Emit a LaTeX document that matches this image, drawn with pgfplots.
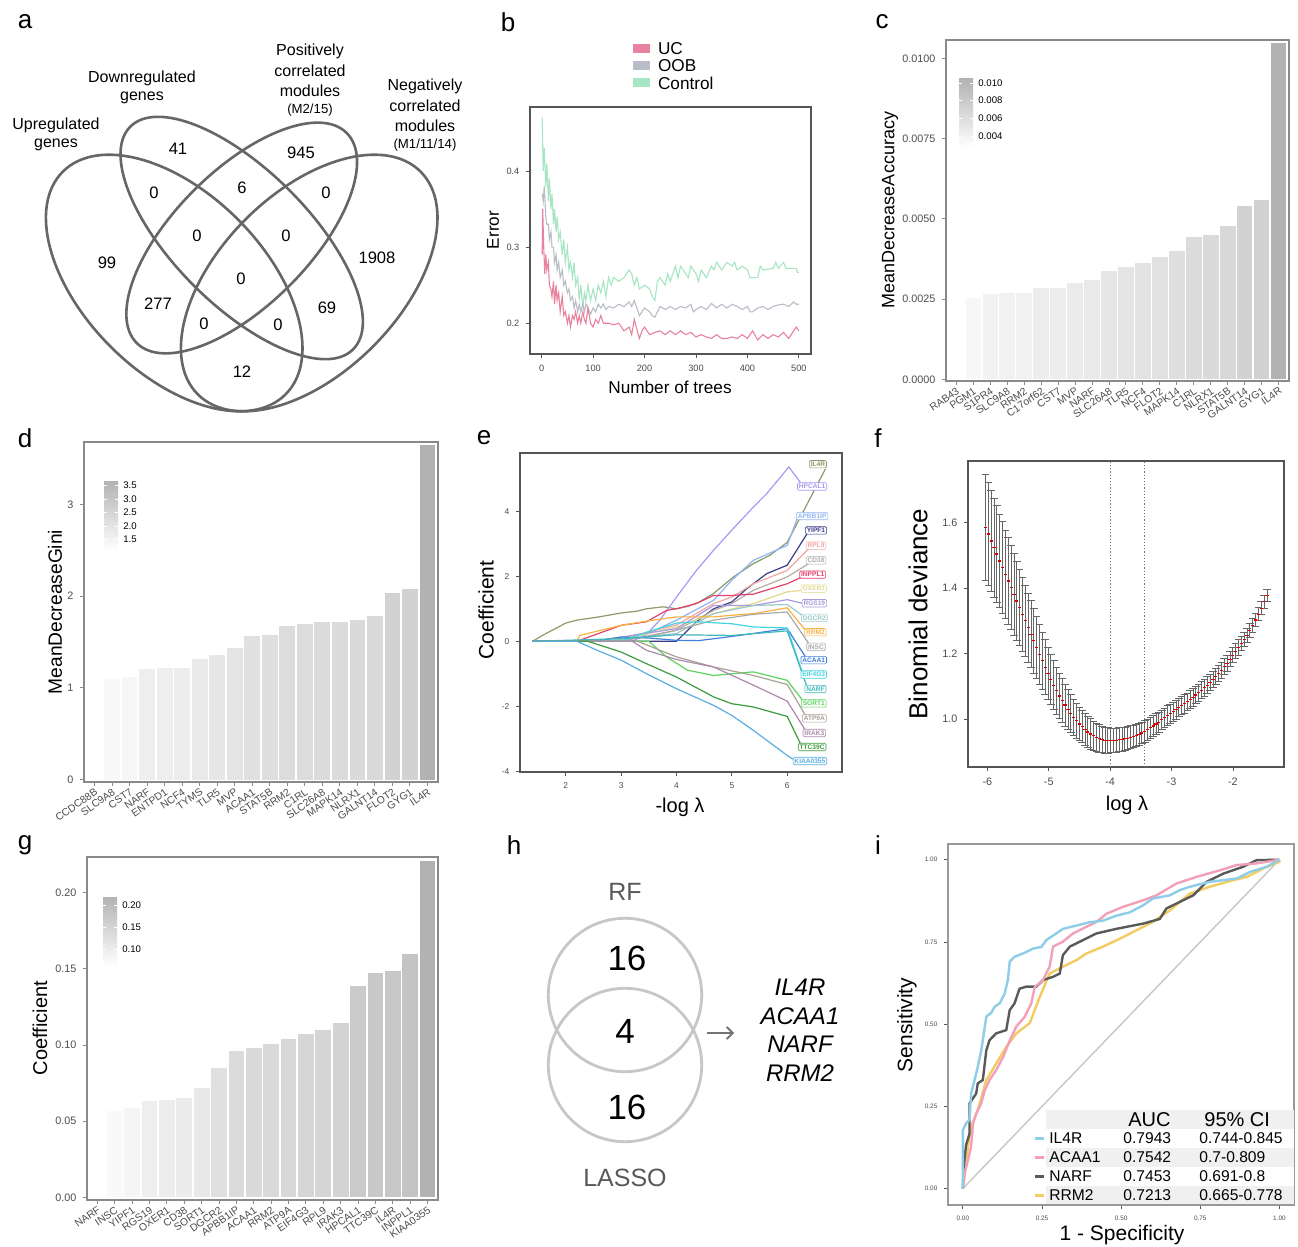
\documentclass[border=0pt]{standalone}
\usepackage{pgfplots}
\pgfplotsset{compat=1.18}
\usepackage{fontspec}
\setmainfont{Liberation Sans}
\usetikzlibrary{arrows.meta}

\newcommand{\fs}[1]{\fontsize{#1}{#1}\selectfont}

\definecolor{frm}{HTML}{555555}
\definecolor{gfrm}{HTML}{8A8A8A}
\definecolor{tk}{HTML}{4D4D4D}
\definecolor{venn}{HTML}{666666}
\definecolor{cUC}{HTML}{E8829E}
\definecolor{cOOB}{HTML}{B9BDC8}
\definecolor{cCtl}{HTML}{A6E6C2}
% lasso path colours
\definecolor{eIL4R}{HTML}{8C9A6C}
\definecolor{eHPCAL1}{HTML}{A899F5}
\definecolor{eAPBB1IP}{HTML}{8FB5F2}
\definecolor{eYIPF1}{HTML}{3B3B8A}
\definecolor{eRPL9}{HTML}{F4A4A4}
\definecolor{eCD38}{HTML}{B4ABAB}
\definecolor{eINPPL1}{HTML}{E2426C}
\definecolor{eOXER1}{HTML}{E3D88E}
\definecolor{eRGS19}{HTML}{A89BDC}
\definecolor{eDGCR2}{HTML}{9CC9C9}
\definecolor{eRRM2}{HTML}{F8B240}
\definecolor{eINSC}{HTML}{A9A9A9}
\definecolor{eACAA1}{HTML}{4080DC}
\definecolor{eEIF4G3}{HTML}{42D6E0}
\definecolor{eNARF}{HTML}{40B8BC}
\definecolor{eSORT1}{HTML}{5DD35D}
\definecolor{eATP9A}{HTML}{AAA097}
\definecolor{eIRAK3}{HTML}{AB8AAB}
\definecolor{eTTC39C}{HTML}{3D9B3D}
\definecolor{eKIAA}{HTML}{5AAEE2}
% roc colours
\definecolor{rIL4R}{HTML}{8ECDE8}
\definecolor{rACAA1}{HTML}{F2A0B8}
\definecolor{rNARF}{HTML}{5A5A5A}
\definecolor{rRRM2}{HTML}{F2CC60}

\pgfplotsset{
  panel/.style={
    scale only axis, anchor=north west,
    axis line style={frm, line width=0.6pt},
    tick style={frm, line width=0.4pt},
    tick align=outside, major tick length=1.8pt,
    xtick pos=bottom, ytick pos=left,
    /pgf/number format/assume math mode=true,
    tick label style={text=tk, font=\fs{4.6}},
  },
  barpanel/.style={panel,
    axis line style={gfrm, line width=0.8pt},
    tick style={gfrm, line width=0.5pt},
    xmin=0.4, xmax=20.6, xtick={1,...,20},
    xticklabel style={rotate=35, anchor=north east, inner sep=0.6pt, font=\fs{5.2}},
    yticklabel style={font=\fs{5.4}},
    scaled y ticks=false,
  },
  gb/.style={ybar, bar width=0.9, draw=none, fill=black!#1},
}
\tikzset{
  lab/.style={draw=#1, fill=white, text=#1, rounded corners=0.6pt, inner sep=0.7pt,
    line width=0.3pt, font=\fs{3.3}\bfseries},
}

\begin{document}
\begin{tikzpicture}
\path[use as bounding box, fill=white] (0,0) rectangle (649pt,-623.5pt);

\begin{scope}[x=0.5pt, y=-0.5pt]
% panel letters
\foreach \l/\x/\y in {a/25/22, b/508/22, c/882/22, d/25/438, e/484/438, f/878/438, g/25/845, h/514/845, i/878/845}
  \node[font=\fs{13}] at (\x,\y) {\l};

% ---------- a: four-set Venn diagram
\draw[venn, line width=1.3pt, rotate around={-45:(174.2,283)}] (174.2,283) ellipse[x radius=78.75pt, y radius=45pt];
\draw[venn, line width=1.3pt, rotate around={-45:(241.7,238)}] (241.7,238) ellipse[x radius=78.75pt, y radius=33.75pt];
\draw[venn, line width=1.3pt, rotate around={45:(241.7,238)}] (241.7,238) ellipse[x radius=74.25pt, y radius=33.75pt];
\draw[venn, line width=1.3pt, rotate around={45:(309.2,283)}] (309.2,283) ellipse[x radius=78.75pt, y radius=45pt];
\foreach \n/\x/\y in {41/178/149, 945/301/153, 0/154/193, 6/242/188, 0/326/193, 0/197/236, 0/286/236,
  99/107/263, 1908/377/258, 0/241/279, 277/158/304, 69/327/308, 0/204/324, 0/278/325, 12/242/372}
  \node[font=\fs{8.3}] at (\x,\y) {\n};
\begin{scope}[every node/.style={font=\fs{8}}]
\node at (56,125) {Upregulated}; \node at (56,145) {genes};
\node at (142,78) {Downregulated}; \node at (142,98) {genes};
\node at (310,51) {Positively}; \node at (310,71) {correlated}; \node at (310,91) {modules};
\node[font=\fs{6.6}] at (310,110) {(M2/15)};
\node at (425,86) {Negatively}; \node at (425,106) {correlated}; \node at (425,126) {modules};
\node[font=\fs{6.6}] at (425,145) {(M1/11/14)};
\end{scope}

% ---------- b: legend and labels
\fill[cUC] (633,44) rectangle (650,53);
\fill[cOOB] (633,61) rectangle (650,70);
\fill[cCtl] (633,78) rectangle (650,87);
\node[anchor=west, font=\fs{8.6}] at (651,49) {UC};
\node[anchor=west, font=\fs{8.6}] at (651,66) {OOB};
\node[anchor=west, font=\fs{8.6}] at (651,83) {Control};
\node[rotate=90, font=\fs{8.6}] at (493,230) {Error};
\node[font=\fs{8.6}] at (670,387) {Number of trees};

% ---------- c: label and colour bar
\node[rotate=90, font=\fs{9}] at (890,210) {MeanDecreaseAccuracy};
\shade[top color=black!30, bottom color=white] (959,79) rectangle (973,148);
\foreach \y/\t in {83/0.010, 100/0.008, 118/0.006, 136/0.004}{
  \draw[white, line width=0.4pt] (959,\y)--(962,\y) (970,\y)--(973,\y);
  \node[anchor=west, font=\fs{4.8}, inner sep=1pt] at (976,\y) {\t};}

% ---------- d
\node[rotate=90, font=\fs{9.6}] at (55,612) {MeanDecreaseGini};
\shade[top color=black!30, bottom color=white] (104,481) rectangle (118,550);
\foreach \y/\t in {485/3.5, 499/3.0, 512/2.5, 526/2.0, 539/1.5}{
  \draw[white, line width=0.4pt] (104,\y)--(107,\y) (115,\y)--(118,\y);
  \node[anchor=west, font=\fs{4.8}, inner sep=1pt] at (121,\y) {\t};}

% ---------- e, f labels
\node[rotate=90, font=\fs{10.5}] at (486,610) {Coefficient};
\node[font=\fs{10}] at (680,807) {-log λ};
\node[rotate=90, font=\fs{13}] at (918,614) {Binomial deviance};
\node[font=\fs{10}] at (1127,805) {log λ};

% ---------- g
\node[rotate=90, font=\fs{10}] at (40,1028) {Coefficient};
\shade[top color=black!30, bottom color=white] (103,897) rectangle (117,966);
\foreach \y/\t in {905/0.20, 927/0.15, 949/0.10}{
  \draw[white, line width=0.4pt] (103,\y)--(106,\y) (114,\y)--(117,\y);
  \node[anchor=west, font=\fs{4.8}, inner sep=1pt] at (120,\y) {\t};}

% ---------- h: two-set Venn
\draw[black!22, line width=1.4pt] (625,995) circle[radius=38.35pt];
\draw[black!22, line width=1.4pt] (625,1065) circle[radius=38.35pt];
\node[text=black!65, font=\fs{12.5}] at (625,892) {RF};
\node[text=black!65, font=\fs{12.5}] at (625,1178) {LASSO};
\node[font=\fs{17.5}] at (627,958) {16};
\node[font=\fs{17.5}] at (625,1031) {4};
\node[font=\fs{17.5}] at (627,1107) {16};
\draw[black!55, line width=0.9pt, -{Straight Barb[length=3pt, width=6pt]}] (707,1033) -- (734,1033);
\foreach \g/\y in {IL4R/987, ACAA1/1016, NARF/1044, RRM2/1073}
  \node[font=\fs{12}\itshape] at (800,\y) {\g};

% ---------- i: labels
\node[rotate=90, font=\fs{10.5}] at (907,1025) {Sensitivity};
\node[font=\fs{10.5}] at (1122,1235) {1 - Specificity};
\end{scope}

% ================= b
\begin{axis}[panel, at={(265pt,-53.5pt)}, width=140.5pt, height=123.5pt,
  xmin=-22.7, xmax=523.6, ymin=0.1596, ymax=0.484,
  xtick={0,100,200,300,400,500}, ytick={0.2,0.3,0.4},
  yticklabel style={/pgf/number format/fixed, /pgf/number format/fixed zerofill, /pgf/number format/precision=1}]
\addplot[cCtl, line width=0.55pt] coordinates {
(1,0.47) (3,0.40) (5,0.43) (8,0.38) (10,0.41) (13,0.36) (15,0.39) (18,0.35) (20,0.37) (23,0.33)
(25,0.35) (28,0.32) (30,0.34) (33,0.31) (36,0.32) (40,0.29) (43,0.31) (46,0.28) (50,0.30) (53,0.27)
(56,0.28) (60,0.26) (63,0.28) (66,0.25) (70,0.26) (73,0.23) (76,0.25) (80,0.22) (83,0.24) (86,0.23)
(90,0.25) (95,0.23) (100,0.245) (105,0.23) (110,0.25) (115,0.24) (120,0.255) (125,0.235) (130,0.26)
(135,0.25) (140,0.26) (150,0.255) (160,0.26) (170,0.27) (175,0.265) (180,0.25) (185,0.26) (190,0.245)
(200,0.25) (210,0.245) (215,0.235) (220,0.23) (225,0.255) (230,0.26) (240,0.25) (245,0.265) (250,0.255)
(260,0.275) (265,0.26) (270,0.275) (280,0.265) (285,0.26) (290,0.275) (300,0.265) (305,0.255) (310,0.27)
(320,0.26) (330,0.275) (335,0.27) (340,0.28) (350,0.27) (360,0.28) (370,0.275) (375,0.28) (380,0.27)
(390,0.275) (400,0.27) (405,0.26) (420,0.26) (425,0.275) (430,0.27) (450,0.272) (455,0.28) (460,0.272)
(470,0.28) (475,0.272) (495,0.272) (497,0.267) (500,0.267)};
\addplot[cOOB, line width=0.55pt] coordinates {
(1,0.37) (3,0.36) (5,0.38) (8,0.34) (10,0.33) (13,0.33) (15,0.31) (18,0.32) (20,0.30) (23,0.30)
(25,0.28) (28,0.29) (30,0.27) (33,0.28) (36,0.26) (40,0.27) (43,0.25) (46,0.255) (50,0.24) (53,0.245)
(56,0.23) (60,0.235) (63,0.22) (66,0.23) (70,0.215) (73,0.225) (76,0.215) (80,0.225) (83,0.215) (86,0.225)
(90,0.22) (95,0.212) (100,0.22) (105,0.215) (110,0.225) (115,0.22) (120,0.225) (125,0.218) (130,0.222)
(140,0.22) (150,0.225) (160,0.222) (170,0.228) (175,0.222) (180,0.23) (185,0.22) (190,0.21) (195,0.215)
(200,0.22) (210,0.215) (215,0.21) (220,0.208) (225,0.215) (230,0.222) (240,0.218) (250,0.222) (260,0.218)
(270,0.222) (280,0.22) (290,0.225) (295,0.215) (300,0.218) (310,0.222) (320,0.218) (330,0.226) (340,0.22)
(350,0.225) (360,0.22) (370,0.225) (380,0.222) (390,0.218) (400,0.222) (405,0.215) (410,0.215) (420,0.22)
(430,0.222) (440,0.218) (450,0.222) (460,0.224) (470,0.225) (480,0.222) (490,0.228) (495,0.225) (500,0.225)};
\addplot[cUC, line width=0.55pt] coordinates {
(1,0.29) (2,0.35) (4,0.30) (6,0.265) (8,0.29) (10,0.27) (13,0.28) (15,0.25) (18,0.245) (20,0.235)
(23,0.255) (25,0.225) (28,0.25) (30,0.23) (33,0.24) (36,0.215) (40,0.235) (43,0.21) (46,0.215) (50,0.20)
(53,0.21) (56,0.195) (60,0.21) (63,0.205) (66,0.215) (70,0.20) (73,0.21) (76,0.20) (80,0.215) (83,0.205)
(86,0.20) (90,0.22) (95,0.20) (100,0.195) (105,0.205) (110,0.20) (115,0.21) (120,0.20) (130,0.20)
(140,0.198) (150,0.20) (160,0.19) (170,0.195) (175,0.185) (180,0.205) (185,0.192) (190,0.18) (195,0.19)
(200,0.195) (210,0.185) (220,0.188) (230,0.19) (240,0.185) (250,0.19) (260,0.185) (270,0.19) (280,0.185)
(290,0.188) (300,0.182) (310,0.185) (320,0.182) (330,0.18) (340,0.185) (350,0.18) (360,0.18) (370,0.182)
(380,0.18) (390,0.185) (400,0.18) (410,0.19) (420,0.178) (430,0.185) (440,0.18) (450,0.185) (460,0.182)
(470,0.188) (480,0.18) (490,0.19) (495,0.195) (500,0.19)};
\end{axis}

% ================= c
\begin{axis}[barpanel, at={(473pt,-20pt)}, width=171.5pt, height=170.5pt,
  ymin=-0.00005, ymax=0.01058,
  ytick={0,0.0025,0.005,0.0075,0.01},
  yticklabel style={/pgf/number format/fixed, /pgf/number format/fixed zerofill, /pgf/number format/precision=4},
  xticklabels={RAB43,PGM1,S1PR4,SLC9A8,RRM2,C17orf62,CST7,MVP,NARF,SLC26A8,TLR5,NCF4,FLOT2,MAPK14,C1RL,NLRX1,STAT5B,GALNT14,GYG1,IL4R}]
\addplot[gb=0] coordinates {(1,0.0024)};
\addplot[gb=3] coordinates {(2,0.00253)};
\addplot[gb=5.2] coordinates {(3,0.00266)};
\addplot[gb=5.4] coordinates {(4,0.00268)};
\addplot[gb=5.4] coordinates {(5,0.00268)};
\addplot[gb=7.0] coordinates {(6,0.00285)};
\addplot[gb=7.0] coordinates {(7,0.00286)};
\addplot[gb=7.9] coordinates {(8,0.00301)};
\addplot[gb=8.5] coordinates {(9,0.00311)};
\addplot[gb=9.9] coordinates {(10,0.00339)};
\addplot[gb=10.4] coordinates {(11,0.00349)};
\addplot[gb=11.1] coordinates {(12,0.00364)};
\addplot[gb=11.9] coordinates {(13,0.00383)};
\addplot[gb=12.6] coordinates {(14,0.00401)};
\addplot[gb=14.3] coordinates {(15,0.00445)};
\addplot[gb=14.5] coordinates {(16,0.00451)};
\addplot[gb=15.4] coordinates {(17,0.00478)};
\addplot[gb=17.5] coordinates {(18,0.00542)};
\addplot[gb=18.0] coordinates {(19,0.00559)};
\addplot[gb=30] coordinates {(20,0.0105)};
\end{axis}

% ================= d
\begin{axis}[barpanel, at={(42pt,-221pt)}, width=177pt, height=170pt,
  ymin=-0.025, ymax=3.68, ytick={0,1,2,3},
  xticklabels={CCDC88B,SLC9A8,CST7,NARF,ENTPD1,NCF4,TYMS,TLR5,MVP,ACAA1,STAT5B,RRM2,C1RL,SLC26A8,MAPK14,NLRX1,GALNT14,FLOT2,GYG1,IL4R}]
\addplot[gb=0] coordinates {(1,1.08)};
\addplot[gb=2.5] coordinates {(2,1.10)};
\addplot[gb=3.4] coordinates {(3,1.114)};
\addplot[gb=6.7] coordinates {(4,1.21)};
\addplot[gb=6.8] coordinates {(5,1.216)};
\addplot[gb=6.9] coordinates {(6,1.22)};
\addplot[gb=8.6] coordinates {(7,1.31)};
\addplot[gb=9.3] coordinates {(8,1.354)};
\addplot[gb=10.6] coordinates {(9,1.44)};
\addplot[gb=12.3] coordinates {(10,1.568)};
\addplot[gb=12.4] coordinates {(11,1.572)};
\addplot[gb=13.6] coordinates {(12,1.67)};
\addplot[gb=13.9] coordinates {(13,1.70)};
\addplot[gb=14.1] coordinates {(14,1.72)};
\addplot[gb=14.1] coordinates {(15,1.72)};
\addplot[gb=14.4] coordinates {(16,1.74)};
\addplot[gb=14.8] coordinates {(17,1.78)};
\addplot[gb=17.5] coordinates {(18,2.036)};
\addplot[gb=17.8] coordinates {(19,2.076)};
\addplot[gb=30] coordinates {(20,3.65)};
\end{axis}

% ================= e
\begin{axis}[panel, at={(260pt,-226.5pt)}, width=161pt, height=159.5pt,
  xmin=1.173, xmax=6.99, ymin=-4.02, ymax=5.79,
  xtick={2,3,4,5,6}, ytick={-4,-2,0,2,4}, tick label style={font=\fs{4.2}}]
\addplot[eIL4R, line width=0.6pt] coordinates {(1.4,0) (1.6,0.2) (2,0.56) (2.2,0.65) (2.6,0.75) (3,0.87) (3.3,0.93) (3.46,1.0) (3.76,1.06) (4,1.0) (4.2,1.07) (4.4,1.2) (4.67,1.47) (5.03,1.98) (5.39,2.39) (5.69,2.65) (6,3.04) (6.69,5.3)};
\addplot[eHPCAL1, line width=0.6pt] coordinates {(1.4,0) (3.2,0) (3.45,0.2) (3.7,0.65) (4,1.36) (4.36,2.18) (4.67,2.8) (5,3.42) (5.39,4.13) (5.63,4.54) (6.03,5.36) (6.24,4.88)};
\addplot[eAPBB1IP, line width=0.6pt] coordinates {(1.4,0) (3.0,0) (3.5,0.25) (4,0.65) (4.67,1.26) (5,1.88) (5.39,2.49) (6,2.95) (6.18,3.77)};
\addplot[eYIPF1, line width=0.6pt] coordinates {(1.4,0) (4,0) (4.36,0.6) (4.67,1.0) (5,1.21) (5.27,1.62) (5.63,2.08) (6,2.34) (6.36,3.31)};
\addplot[eRPL9, line width=0.6pt] coordinates {(1.4,0) (2.8,0) (3.4,0.25) (4,0.5) (4.67,1.16) (5,1.36) (5.39,1.77) (6,2.18) (6.39,2.85)};
\addplot[eCD38, line width=0.6pt] coordinates {(1.4,0) (2.9,0) (3.5,0.15) (4,0.34) (4.67,0.95) (5,1.16) (5.39,1.57) (6,1.98) (6.39,2.39)};
\addplot[eINPPL1, line width=0.6pt] coordinates {(1.4,0) (2.2,0) (3,0.49) (3.46,0.6) (3.82,0.95) (4,1.0) (4.36,1.16) (4.67,1.41) (5,1.41) (5.39,1.45) (6,1.77) (6.27,1.98)};
\addplot[eOXER1, line width=0.6pt] coordinates {(1.4,0) (2.8,0) (3.4,0.2) (4,0.44) (4.67,0.85) (5.39,1.16) (6,1.52) (6.28,1.57)};
\addplot[eRGS19, line width=0.6pt] coordinates {(1.4,0) (2.5,0) (3,0.13) (4,0.39) (4.67,1.1) (5.39,1.1) (6,1.28) (6.27,1.17)};
\addplot[eDGCR2, line width=0.6pt] coordinates {(1.4,0) (2.7,0) (4,0.24) (4.67,0.85) (5.39,1.1) (6,1.13) (6.27,0.80)};
\addplot[eRRM2, line width=0.6pt] coordinates {(1.4,0) (2.2,0) (2.25,0.18) (3,0.49) (3.46,0.62) (4,0.75) (4.67,0.75) (5,0.8) (5.39,0.85) (6,1.03) (6.33,0.34)};
\addplot[eINSC, line width=0.6pt] coordinates {(1.4,0) (3.0,0) (4,0.34) (4.67,0.65) (5.39,0.83) (6,0.9) (6.39,-0.07)};
\addplot[eACAA1, line width=0.6pt] coordinates {(1.4,0) (2.5,0) (3,0.13) (3.5,0.1) (4,0.03) (4.4,0.02) (5,0.15) (5.39,0.24) (6,0.39) (6.33,-0.48)};
\addplot[eEIF4G3, line width=0.6pt] coordinates {(1.4,0) (3,0) (3.5,0.3) (4,0.56) (4.36,0.6) (5,0.54) (5.39,0.44) (6,0.41) (6.27,-0.94)};
\addplot[eNARF, line width=0.6pt] coordinates {(1.4,0) (3,0.08) (4,0.2) (5,0.18) (6,0.32) (6.36,-1.41)};
\addplot[eSORT1, line width=0.6pt] coordinates {(1.4,0) (3.5,0) (3.82,-0.48) (4.2,-0.89) (4.67,-1.05) (5,-1.0) (5.39,-0.94) (6,-1.2) (6.28,-1.82)};
\addplot[eATP9A, line width=0.6pt] coordinates {(1.4,0) (3.3,0) (4,-0.48) (4.67,-0.79) (5.39,-1.05) (6,-1.33) (6.33,-2.28)};
\addplot[eIRAK3, line width=0.6pt] coordinates {(1.4,0) (3.2,0) (3.46,-0.28) (4,-0.56) (4.67,-0.79) (5.39,-1.35) (6,-1.84) (6.33,-2.74)};
\addplot[eTTC39C, line width=0.6pt] coordinates {(1.4,0) (2.4,0) (3,-0.33) (3.46,-0.69) (4,-1.1) (4.67,-1.71) (5,-1.92) (5.39,-2.02) (6,-2.31) (6.24,-3.15)};
\addplot[eKIAA, line width=0.6pt] coordinates {(1.4,0) (2.2,0) (2.6,-0.3) (3,-0.58) (3.46,-1.0) (4,-1.46) (4.67,-1.97) (5,-2.28) (5.39,-2.74) (6,-3.51) (6.14,-3.66)};
\node[lab=eIL4R] at (axis cs:6.555,5.446) {IL4R};
\node[lab=eHPCAL1] at (axis cs:6.45,4.76) {HPCAL1};
\node[lab=eAPBB1IP] at (axis cs:6.45,3.85) {APBB1IP};
\node[lab=eYIPF1] at (axis cs:6.52,3.41) {YIPF1};
\node[lab=eRPL9] at (axis cs:6.52,2.94) {RPL9};
\node[lab=eCD38] at (axis cs:6.52,2.49) {CD38};
\node[lab=eINPPL1] at (axis cs:6.46,2.05) {INPPL1};
\node[lab=eOXER1] at (axis cs:6.48,1.62) {OXER1};
\node[lab=eRGS19] at (axis cs:6.49,1.17) {RGS19};
\node[lab=eDGCR2] at (axis cs:6.49,0.72) {DGCR2};
\node[lab=eRRM2] at (axis cs:6.51,0.28) {RRM2};
\node[lab=eINSC] at (axis cs:6.52,-0.17) {INSC};
\node[lab=eACAA1] at (axis cs:6.48,-0.58) {ACAA1};
\node[lab=eEIF4G3] at (axis cs:6.48,-1.02) {EIF4G3};
\node[lab=eNARF] at (axis cs:6.51,-1.47) {NARF};
\node[lab=eSORT1] at (axis cs:6.48,-1.91) {SORT1};
\node[lab=eATP9A] at (axis cs:6.49,-2.37) {ATP9A};
\node[lab=eIRAK3] at (axis cs:6.49,-2.82) {IRAK3};
\node[lab=eTTC39C] at (axis cs:6.45,-3.25) {TTC39C};
\node[lab=eKIAA] at (axis cs:6.41,-3.68) {KIAA0355};
\end{axis}

% ================= f
\begin{axis}[panel, at={(484pt,-230.5pt)}, width=158pt, height=153pt,
  xmin=-6.315, xmax=-1.168, ymin=0.854, ymax=1.788,
  xtick={-6,-5,-4,-3,-2}, ytick={1.0,1.2,1.4,1.6}, tick label style={font=\fs{5.4}},
  yticklabel style={/pgf/number format/fixed, /pgf/number format/fixed zerofill, /pgf/number format/precision=1}]
\addplot[black!55, densely dotted, line width=0.6pt] coordinates {(-4.0,0.854) (-4.0,1.788)};
\addplot[black!55, densely dotted, line width=0.6pt] coordinates {(-3.44,0.854) (-3.44,1.788)};
\addplot[only marks, mark=-, mark size=0.8pt, mark options={red!85!black, line width=0.6pt},
  error bars/.cd, y dir=both, y explicit,
  error bar style={black!60, line width=0.4pt},
  error mark options={rotate=90, black!60, mark size=1.9pt, line width=0.45pt}]
  table[x=x, y=y, y error=e] {
x y e
-6.030 1.585 0.162
-5.984 1.565 0.158
-5.937 1.544 0.154
-5.891 1.524 0.151
-5.845 1.504 0.147
-5.799 1.483 0.143
-5.752 1.463 0.139
-5.706 1.442 0.135
-5.660 1.422 0.132
-5.613 1.402 0.128
-5.567 1.381 0.124
-5.521 1.361 0.120
-5.474 1.341 0.116
-5.428 1.320 0.113
-5.382 1.300 0.109
-5.336 1.279 0.105
-5.289 1.259 0.102
-5.243 1.239 0.098
-5.197 1.218 0.095
-5.150 1.198 0.091
-5.104 1.178 0.087
-5.058 1.158 0.084
-5.011 1.139 0.080
-4.965 1.121 0.077
-4.919 1.104 0.075
-4.873 1.087 0.072
-4.826 1.071 0.069
-4.780 1.057 0.066
-4.734 1.043 0.064
-4.687 1.029 0.061
-4.641 1.017 0.058
-4.595 1.006 0.055
-4.548 0.995 0.053
-4.502 0.985 0.050
-4.456 0.977 0.049
-4.410 0.969 0.048
-4.363 0.961 0.047
-4.317 0.955 0.046
-4.271 0.950 0.044
-4.224 0.945 0.043
-4.178 0.941 0.042
-4.132 0.938 0.041
-4.085 0.936 0.040
-4.039 0.935 0.039
-3.993 0.935 0.038
-3.946 0.935 0.038
-3.900 0.936 0.037
-3.854 0.937 0.037
-3.808 0.938 0.036
-3.761 0.940 0.036
-3.715 0.942 0.035
-3.669 0.945 0.035
-3.622 0.948 0.034
-3.576 0.951 0.034
-3.530 0.954 0.033
-3.483 0.958 0.033
-3.437 0.963 0.033
-3.391 0.968 0.032
-3.345 0.974 0.032
-3.298 0.979 0.032
-3.252 0.985 0.031
-3.206 0.991 0.031
-3.159 0.998 0.030
-3.113 1.004 0.030
-3.067 1.011 0.030
-3.021 1.017 0.029
-2.974 1.023 0.029
-2.928 1.029 0.029
-2.882 1.035 0.028
-2.835 1.041 0.028
-2.789 1.047 0.028
-2.743 1.053 0.027
-2.697 1.060 0.027
-2.650 1.067 0.027
-2.604 1.074 0.026
-2.558 1.081 0.026
-2.511 1.088 0.026
-2.465 1.096 0.026
-2.419 1.104 0.025
-2.372 1.113 0.025
-2.326 1.121 0.025
-2.280 1.130 0.025
-2.234 1.139 0.024
-2.187 1.149 0.024
-2.141 1.160 0.024
-2.095 1.171 0.024
-2.048 1.183 0.023
-2.002 1.195 0.023
-1.956 1.207 0.023
-1.909 1.219 0.023
-1.863 1.231 0.022
-1.817 1.243 0.022
-1.771 1.256 0.022
-1.724 1.271 0.021
-1.678 1.287 0.021
-1.632 1.303 0.020
-1.585 1.320 0.020
-1.539 1.339 0.020
-1.493 1.358 0.019
-1.446 1.378 0.019
};
\end{axis}

% ================= g
\begin{axis}[barpanel, at={(43.5pt,-428.5pt)}, width=175.5pt, height=171.5pt,
  ymin=-0.0017, ymax=0.2234, ytick={0,0.05,0.1,0.15,0.2},
  yticklabel style={/pgf/number format/fixed, /pgf/number format/fixed zerofill, /pgf/number format/precision=2},
  xticklabels={NARF,INSC,YIPF1,RGS19,OXER1,CD38,SORT1,DGCR2,APBB1IP,ACAA1,RRM2,ATP9A,EIF4G3,RPL9,IRAK3,HPCAL1,TTC39C,IL4R,INPPL1,KIAA0355}]
\addplot[gb=0] coordinates {(1,0.055)};
\addplot[gb=2.5] coordinates {(2,0.0568)};
\addplot[gb=4.0] coordinates {(3,0.0588)};
\addplot[gb=6.5] coordinates {(4,0.063)};
\addplot[gb=6.9] coordinates {(5,0.064)};
\addplot[gb=7.3] coordinates {(6,0.0654)};
\addplot[gb=9.1] coordinates {(7,0.0719)};
\addplot[gb=12.0] coordinates {(8,0.0848)};
\addplot[gb=14.1] coordinates {(9,0.0962)};
\addplot[gb=14.4] coordinates {(10,0.0979)};
\addplot[gb=14.9] coordinates {(11,0.1005)};
\addplot[gb=15.5] coordinates {(12,0.1038)};
\addplot[gb=16.0] coordinates {(13,0.1073)};
\addplot[gb=16.4] coordinates {(14,0.1097)};
\addplot[gb=17.1] coordinates {(15,0.1143)};
\addplot[gb=20.6] coordinates {(16,0.1388)};
\addplot[gb=21.7] coordinates {(17,0.1471)};
\addplot[gb=21.9] coordinates {(18,0.1489)};
\addplot[gb=23.3] coordinates {(19,0.1598)};
\addplot[gb=30] coordinates {(20,0.2205)};
\end{axis}

% ================= i
\begin{axis}[panel, at={(474pt,-422pt)}, width=173pt, height=180.5pt,
  axis line style={black!40, line width=0.6pt},
  xmin=-0.047, xmax=1.046, ymin=-0.05, ymax=1.048,
  xtick={0,0.25,0.5,0.75,1}, ytick={0,0.25,0.5,0.75,1},
  tick label style={font=\fs{3.2}},
  xticklabel style={/pgf/number format/fixed, /pgf/number format/fixed zerofill, /pgf/number format/precision=2},
  yticklabel style={/pgf/number format/fixed, /pgf/number format/fixed zerofill, /pgf/number format/precision=2}]
\addplot[black!22, line width=0.7pt] coordinates {(0,0) (1,1)};
\addplot[rRRM2, line width=1.2pt] coordinates {(0,0) (0.008,0.056) (0.016,0.127) (0.026,0.188) (0.047,0.239) (0.074,0.33) (0.105,0.38) (0.137,0.431) (0.169,0.472) (0.211,0.503) (0.243,0.583) (0.274,0.654) (0.316,0.675) (0.359,0.695) (0.39,0.715) (0.443,0.736) (0.496,0.76) (0.549,0.786) (0.6,0.811) (0.654,0.846) (0.717,0.897) (0.78,0.918) (0.854,0.938) (0.897,0.948) (0.95,0.974) (1,0.994) (1,1)};
\addplot[rNARF, line width=1.2pt] coordinates {(0,0) (0.002,0.061) (0.01,0.132) (0.021,0.167) (0.021,0.259) (0.042,0.289) (0.047,0.32) (0.063,0.33) (0.074,0.42) (0.084,0.451) (0.105,0.472) (0.137,0.482) (0.148,0.543) (0.163,0.563) (0.179,0.608) (0.2,0.614) (0.232,0.614) (0.253,0.634) (0.285,0.644) (0.306,0.654) (0.316,0.71) (0.338,0.736) (0.38,0.756) (0.422,0.776) (0.485,0.79) (0.57,0.806) (0.622,0.82) (0.643,0.852) (0.696,0.877) (0.728,0.892) (0.77,0.933) (0.823,0.958) (0.886,0.979) (0.928,0.999) (1,1)};
\addplot[rACAA1, line width=1.2pt] coordinates {(0,0) (0.005,0.045) (0.016,0.086) (0.026,0.127) (0.032,0.198) (0.042,0.228) (0.058,0.259) (0.069,0.299) (0.084,0.33) (0.105,0.36) (0.127,0.4) (0.148,0.45) (0.169,0.493) (0.195,0.522) (0.216,0.563) (0.227,0.613) (0.253,0.634) (0.274,0.675) (0.285,0.736) (0.316,0.751) (0.348,0.776) (0.39,0.796) (0.422,0.811) (0.454,0.836) (0.506,0.857) (0.57,0.877) (0.612,0.892) (0.675,0.928) (0.738,0.948) (0.812,0.968) (0.865,0.984) (0.928,0.989) (1,1)};
\addplot[rIL4R, line width=1.2pt] coordinates {(0,0) (0,0.178) (0.01,0.198) (0.021,0.21) (0.026,0.289) (0.037,0.33) (0.047,0.37) (0.058,0.42) (0.074,0.523) (0.09,0.535) (0.1,0.553) (0.116,0.563) (0.132,0.593) (0.142,0.634) (0.148,0.69) (0.163,0.705) (0.19,0.715) (0.222,0.73) (0.248,0.735) (0.264,0.756) (0.295,0.776) (0.316,0.79) (0.359,0.8) (0.4,0.81) (0.443,0.815) (0.485,0.83) (0.527,0.84) (0.57,0.862) (0.6,0.882) (0.654,0.892) (0.686,0.908) (0.717,0.918) (0.78,0.933) (0.865,0.943) (0.907,0.963) (0.96,0.979) (1,1)};
\end{axis}

% legend table of panel i, drawn above the curves
\begin{scope}[x=0.5pt, y=-0.5pt]
\fill[black!6] (1046,1110) rectangle (1294,1129);
\fill[white] (1046,1129) rectangle (1294,1148);
\fill[black!6] (1046,1148) rectangle (1294,1167);
\fill[white] (1046,1167) rectangle (1294,1186);
\fill[black!6] (1046,1186) rectangle (1294,1204);
\node[anchor=west, font=\fs{10}, inner sep=0pt] at (1128,1120) {AUC};
\node[anchor=west, font=\fs{10}, inner sep=0pt] at (1204,1120) {95\% CI};
\foreach \c/\n/\a/\ci/\y in {rIL4R/IL4R/0.7943/0.744-0.845/1138, rACAA1/ACAA1/0.7542/0.7-0.809/1157,
  rNARF/NARF/0.7453/0.691-0.8/1176, rRRM2/RRM2/0.7213/0.665-0.778/1195}{
  \draw[\c, line width=1.5pt] (1035,\y) -- (1044,\y);
  \node[anchor=west, font=\fs{7.8}, inner sep=0pt] at (1049,\y) {\n};
  \node[anchor=west, font=\fs{7.8}, inner sep=0pt] at (1123,\y) {\a};
  \node[anchor=west, font=\fs{7.8}, inner sep=0pt] at (1199,\y) {\ci};}
\end{scope}
\end{tikzpicture}
\end{document}
